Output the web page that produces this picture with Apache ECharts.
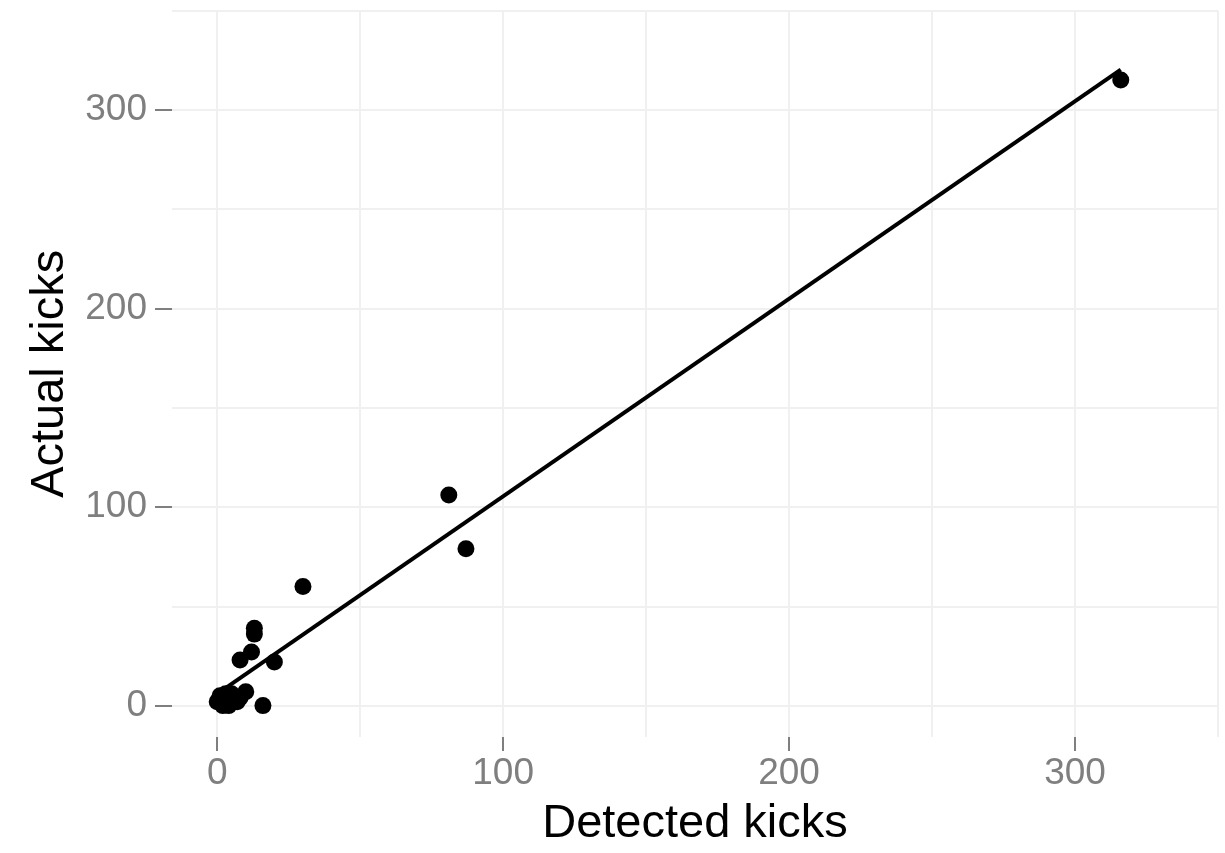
<!DOCTYPE html>
<html>
<head>
<meta charset="utf-8">
<script src="https://cdn.jsdelivr.net/npm/echarts@6/dist/echarts.min.js"></script>
<style>
html,body{margin:0;padding:0;background:#fff;}
#chart{width:1225px;height:853px;}
</style>
</head>
<body>
<div id="chart"></div>
<script>
// Detected vs actual kicks (one point per observation)
const detectedKicks = [316, 81, 87, 30, 13, 13, 12, 8, 20, 16, 10, 0, 1, 2, 3, 4, 4, 5, 6, 7, 8, 2, 3];
const actualKicks   = [315, 106, 79, 60, 39, 36, 27, 23, 22, 0, 7, 2, 5, 0, 1, 0, 4, 6, 3, 2, 4, 3, 6];
// Fitted line endpoints
const fitX = [0, 316];
const fitY = [5.9, 320.2];
// Tick labels and grid lines
const xTicks = [0, 100, 200, 300];
const yTicks = [0, 100, 200, 300];
const xGrid = [0, 50, 100, 150, 200, 250, 300, 350];
const yGrid = [0, 50, 100, 150, 200, 250, 300, 350];
const xTitle = 'Detected kicks';
const yTitle = 'Actual kicks';

const FONT = '"Liberation Sans", Arial, Helvetica, sans-serif';
const points = detectedKicks.map((d, i) => [d, actualKicks[i]]);
const fitLine = fitX.map((x, i) => [x, fitY[i]]);

const gridColor = '#f0f0f0';
const tickGrey = '#7f7f7f';

function axis(ticks, name, isX) {
  return {
    type: 'value',
    min: -15.8,
    max: 350,
    name: name,
    nameLocation: 'middle',
    nameMoveOverlap: false,
    nameGap: isX ? 64 : 98,
    nameTextStyle: { color: '#000', fontSize: 47, fontFamily: FONT },
    axisLine: { show: false, onZero: false },
    axisTick: {
      show: true,
      customValues: ticks,
      length: isX ? 14 : 17,
      lineStyle: { color: tickGrey, width: 2 }
    },
    axisLabel: {
      customValues: ticks,
      color: tickGrey,
      fontSize: 37,
      fontFamily: FONT,
      margin: isX ? 18 : 25
    },
    splitLine: { show: false }
  };
}

const gridLines = xGrid.map(v => ({ xAxis: v }))
  .concat(yGrid.map(v => ({ yAxis: v })));

const chart = echarts.init(document.getElementById('chart'), null, { renderer: 'canvas' });
chart.setOption({
  backgroundColor: '#ffffff',
  animation: false,
  grid: { left: 172, right: 7, top: 10.5, bottom: 115.6 },
  xAxis: axis(xTicks, xTitle, true),
  yAxis: axis(yTicks, yTitle, false),
  series: [
    {
      type: 'scatter',
      data: points,
      symbol: 'circle',
      symbolSize: 17,
      itemStyle: { color: '#000', opacity: 1 },
      z: 2,
      markLine: {
        silent: true,
        symbol: ['none', 'none'],
        label: { show: false },
        lineStyle: { color: gridColor, width: 2, type: 'solid' },
        emphasis: { disabled: true },
        z: 0,
        data: gridLines
      }
    },
    {
      type: 'line',
      data: fitLine,
      showSymbol: false,
      symbol: 'none',
      lineStyle: { color: '#000', width: 4 },
      z: 3
    }
  ]
});
</script>
</body>
</html>
